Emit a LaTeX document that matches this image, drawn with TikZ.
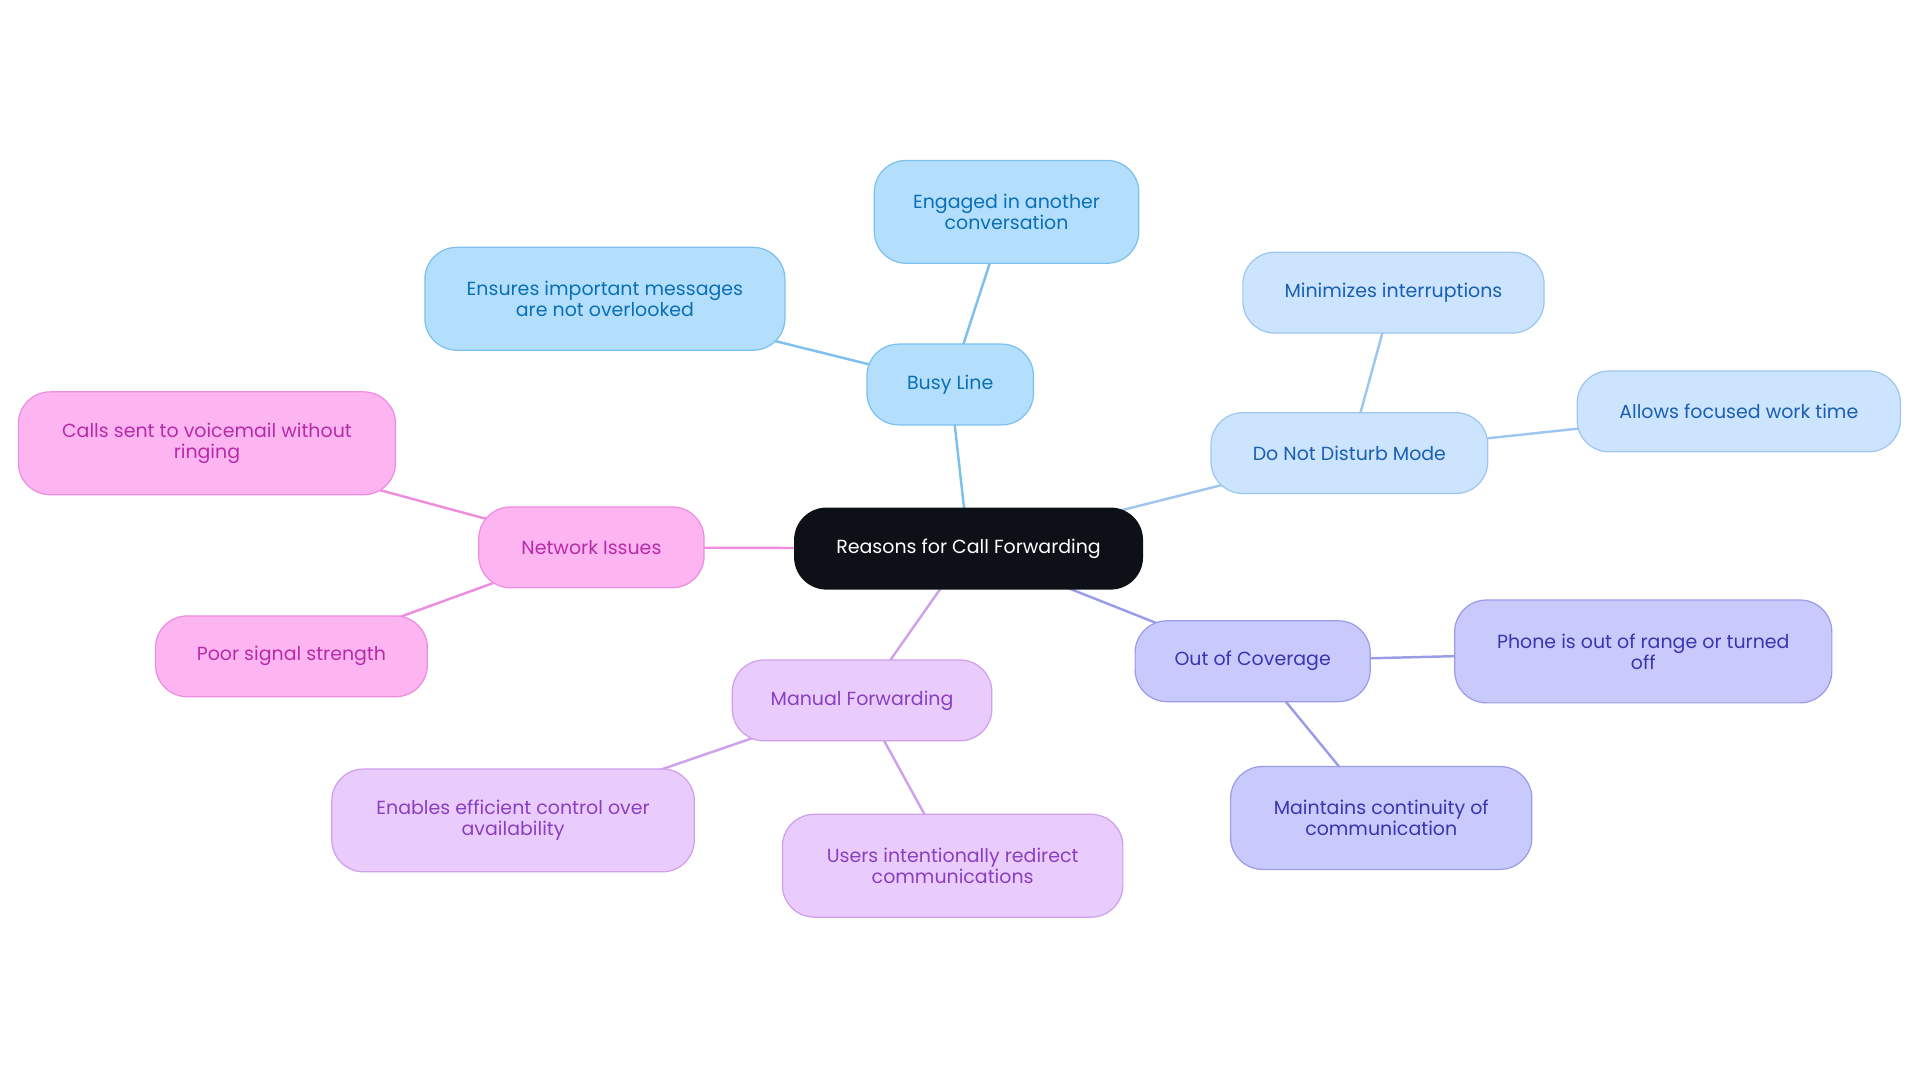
\documentclass[tikz,border=0pt]{standalone}
\usepackage{fontspec}
\setmainfont{Poppins}
\usetikzlibrary{backgrounds}
\begin{document}
\begin{tikzpicture}[x=1pt,y=-1pt,
  base/.style={rounded corners=26pt,line width=1pt,align=center,inner sep=0pt,font=\fontsize{15.5}{17}\selectfont},
  root/.style={base,fill=black!90!blue!60!black,draw=black,text=white},
  blue/.style={base,fill=cyan!30!blue!30,draw=cyan!50!blue!50,text=cyan!50!blue!70!black},
  dnd/.style={base,fill=blue!20!cyan!20,draw=blue!35!cyan!40,text=blue!60!cyan!70!black},
  cov/.style={base,fill=blue!22,draw=blue!40,text=blue!60!black},
  man/.style={base,fill=violet!22,draw=violet!40,text=violet!70},
  net/.style={base,fill=magenta!30,draw=magenta!50,text=magenta!70!black},
  e/.style={line width=2pt}]
\useasboundingbox (0,0) rectangle (1568,884);
\definecolor{rootc}{HTML}{0D1117}
\definecolor{b1}{HTML}{B3DFFC}\definecolor{b2}{HTML}{7CC0EE}\definecolor{b3}{HTML}{0B6FB8}
\definecolor{d1}{HTML}{CCE4FD}\definecolor{d2}{HTML}{9EC6F0}\definecolor{d3}{HTML}{1A5FB4}
\definecolor{c1}{HTML}{C8CAFC}\definecolor{c2}{HTML}{9A9CE8}\definecolor{c3}{HTML}{3A35B0}
\definecolor{m1}{HTML}{E9CBFC}\definecolor{m2}{HTML}{CFA0EC}\definecolor{m3}{HTML}{8A3FC0}
\definecolor{n1}{HTML}{FDB5F2}\definecolor{n2}{HTML}{EE8DE0}\definecolor{n3}{HTML}{B82AA8}
\tikzset{root/.append style={fill=rootc,draw=rootc},
 blue/.append style={fill=b1,draw=b2,text=b3},
 dnd/.append style={fill=d1,draw=d2,text=d3},
 cov/.append style={fill=c1,draw=c2,text=c3},
 man/.append style={fill=m1,draw=m2,text=m3},
 net/.append style={fill=n1,draw=n2,text=n3}}
\node[root,minimum width=284,minimum height=66] (r) at (791,448) {Reasons for Call Forwarding};
\node[blue,minimum width=136,minimum height=66] (b) at (776,314) {Busy Line};
\node[blue,minimum width=216,minimum height=84] (b1n) at (822,173) {Engaged in another\\conversation};
\node[blue,minimum width=294,minimum height=84] (b2n) at (494,244) {Ensures important messages\\are not overlooked};
\node[dnd,minimum width=226,minimum height=66] (d) at (1102,370) {Do Not Disturb Mode};
\node[dnd,minimum width=246,minimum height=66] (d1n) at (1138,239) {Minimizes interruptions};
\node[dnd,minimum width=264,minimum height=66] (d2n) at (1420,336) {Allows focused work time};
\node[cov,minimum width=192,minimum height=66] (c) at (1023,540) {Out of Coverage};
\node[cov,minimum width=308,minimum height=84] (c1n) at (1342,532) {Phone is out of range or turned\\off};
\node[cov,minimum width=246,minimum height=84] (c2n) at (1128,668) {Maintains continuity of\\communication};
\node[man,minimum width=212,minimum height=66] (m) at (704,572) {Manual Forwarding};
\node[man,minimum width=296,minimum height=84] (m1n) at (419,670) {Enables efficient control over\\availability};
\node[man,minimum width=278,minimum height=84] (m2n) at (778,707) {Users intentionally redirect\\communications};
\node[net,minimum width=184,minimum height=66] (n) at (483,447) {Network Issues};
\node[net,minimum width=308,minimum height=84] (n1n) at (169,362) {Calls sent to voicemail without\\ringing};
\node[net,minimum width=222,minimum height=66] (n2n) at (238,536) {Poor signal strength};
\begin{scope}[on background layer]
\draw[e,b2] (r.center)--(b.center) (b.center)--(b1n.center) (b.center)--(b2n.center);
\draw[e,d2] (r.center)--(d.center) (d.center)--(d1n.center) (d.center)--(d2n.center);
\draw[e,c2] (r.center)--(c.center) (c.center)--(c1n.center) (c.center)--(c2n.center);
\draw[e,m2] (r.center)--(m.center) (m.center)--(m1n.center) (m.center)--(m2n.center);
\draw[e,n2] (r.center)--(n.center) (n.center)--(n1n.center) (n.center)--(n2n.center);
\end{scope}
\end{tikzpicture}
\end{document}
